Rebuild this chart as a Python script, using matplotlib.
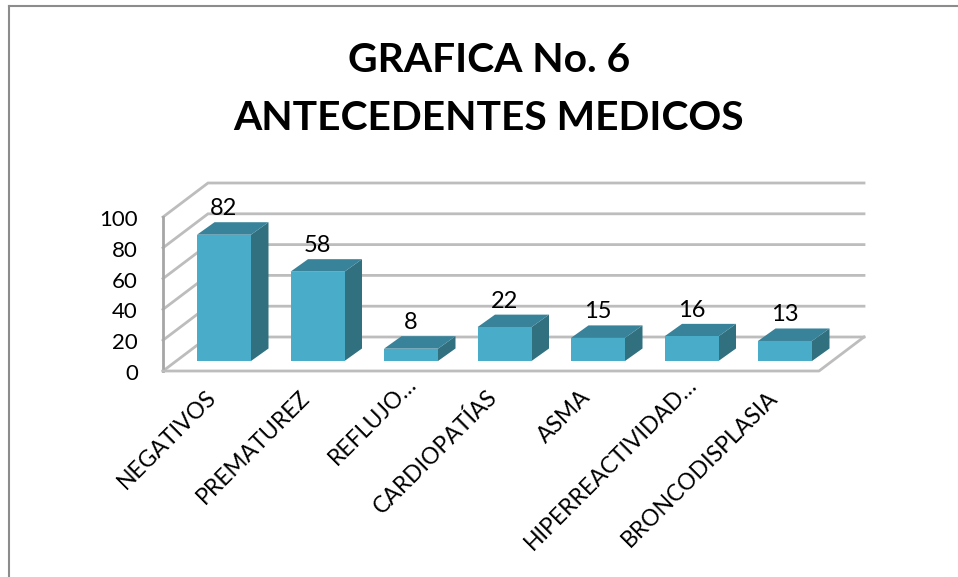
import matplotlib
matplotlib.use("Agg")
import matplotlib.pyplot as plt
from matplotlib.patches import Polygon
from matplotlib.lines import Line2D

# datos
categorias = ["NEGATIVOS", "PREMATUREZ", "REFLUJO…", "CARDIOPATÍAS", "ASMA",
              "HIPERREACTIVIDAD…", "BRONCODISPLASIA"]
valores = [82, 58, 8, 22, 15, 16, 13]
ticks_y = [0, 20, 40, 60, 80, 100]
titulo = "GRAFICA No. 6\nANTECEDENTES MEDICOS"

plt.rcParams["font.family"] = ["Lato", "DejaVu Sans"]

W, H = 958, 577
fig = plt.figure(figsize=(W / 100, H / 100), dpi=100)
ax = fig.add_axes([0, 0, 1, 1])

# escalas: una categoria = 93.5 px, una unidad = 1.54 px
PX_X = 93.5
PX_Y = 1.54
ax.set_xlim(-224 / PX_X, (W - 224) / PX_X)
ax.set_ylim((361 - H) / PX_Y, 361 / PX_Y)
ax.axis("off")

# profundidad de la "caja" 3d
PISO = -10 / PX_Y
DX = 45 / PX_X
DY = 34 / PX_Y
X0 = (163 - 224) / PX_X
X1 = (819 - 224) / PX_X
GRIS = "#BDBDBD"

# paredes y rejilla
for t in ticks_y:
    y = PISO + t
    ax.plot([X0, X0 + DX, X1 + DX], [y, y + DY, y + DY], color=GRIS, lw=2.0,
            solid_joinstyle="miter", zorder=1)
    ax.text(X0 - 25 / PX_X, y - 3 / PX_Y, str(t), ha="right", va="center", fontsize=16, color="black")
ax.plot([X0, X0], [PISO, PISO + 100], color="#A6A6A6", lw=2.0, zorder=1)
ax.plot([X0, X1, X1 + DX], [PISO, PISO, PISO + DY], color=GRIS, lw=2.0, zorder=1)

# barras
ANCHO = 54 / PX_X
BX = 17.5 / PX_X
BY = 12.5 / PX_Y
for i, (nombre, v) in enumerate(zip(categorias, valores)):
    x0 = i - ANCHO / 2
    x1 = i + ANCHO / 2
    ax.add_patch(Polygon([(x1, 0), (x1 + BX, BY), (x1 + BX, v + BY), (x1, v)],
                         facecolor="#30707F", edgecolor="none", zorder=3))
    ax.add_patch(Polygon([(x0, v), (x1, v), (x1 + BX, v + BY), (x0 + BX, v + BY)],
                         facecolor="#38829A", edgecolor="none", zorder=3))
    ax.add_patch(Polygon([(x0, 0), (x1, 0), (x1, v), (x0, v)],
                         facecolor="#49ACC8", edgecolor="none", zorder=4))
    ax.text(i, v + 26 / PX_Y, str(v), ha="center", va="center", fontsize=17, color="black", zorder=5)
    # las etiquetas recortadas sobresalen un poco mas
    extra = 13 if nombre.endswith("…") else 0
    ax.text(i + (extra - 11) / PX_X, (extra - 33) / PX_Y, nombre, rotation=45, rotation_mode="anchor",
            ha="right", va="center", fontsize=16.5, color="black")

# titulo
fig.text(489 / W, 1 - 89.5 / H, titulo, ha="center", va="center", fontsize=29.3,
         fontweight="bold", color="black", linespacing=1.69)

# borde del grafico
for xs, ys in [([9, 9], [6, H]), ([9, W], [6, 6])]:
    fig.add_artist(Line2D([x / W for x in xs], [1 - y / H for y in ys],
                          color="#8C8C8C", lw=1.5))

fig.savefig("out.png", dpi=100)
